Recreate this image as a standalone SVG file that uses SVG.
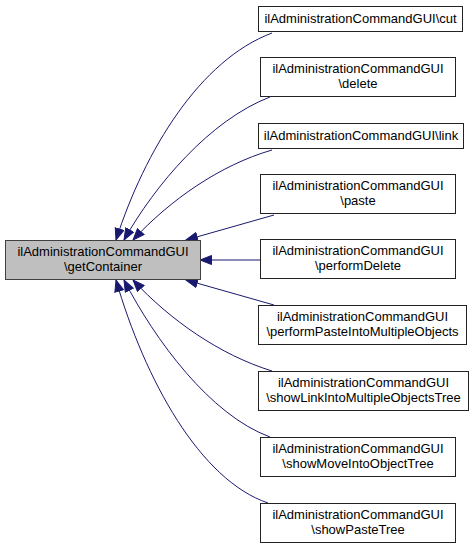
<svg xmlns="http://www.w3.org/2000/svg" width="472" height="547" viewBox="0 0 472 547">
<defs>
<style>
text{font-family:"Liberation Sans",Arial,Helvetica,sans-serif;font-size:13px;fill:#000;text-anchor:middle}
.n{fill:#fff;stroke:#222;stroke-width:1}
.m{fill:#bfbfbf;stroke:#404040;stroke-width:1}
.e{fill:none;stroke:#191970;stroke-width:1;marker-end:url(#ah)}
</style>
<marker id="ah" markerUnits="userSpaceOnUse" markerWidth="14" markerHeight="12" refX="12" refY="5" orient="auto">
<path d="M0.5,0.5 L12,5 L0.5,9.5 z" fill="#191970" stroke="#191970"/>
</marker>
</defs>
<g id="connectors">
<path class="e" d="M272,33 C200,60 145,150 116,240"/>
<path class="e" d="M270,97 C210,120 155,185 124,240"/>
<path class="e" d="M272,150 C220,165 170,200 133,240"/>
<path class="e" d="M274,215 L186,240"/>
<path class="e" d="M260,260 L200,260"/>
<path class="e" d="M274,305 L186,280"/>
<path class="e" d="M272,371 C220,355 170,320 133,280"/>
<path class="e" d="M270,437 C210,415 155,340 124,280"/>
<path class="e" d="M268,503 C200,480 145,380 116,280"/>
</g>
<g id="main">
<rect class="m" x="5.5" y="240.5" width="195" height="39"/>
<text x="103" y="256">ilAdministrationCommandGUI</text>
<text x="103" y="271">\getContainer</text>
</g>
<g id="cut">
<rect class="n" x="258.5" y="6.5" width="204" height="25"/>
<text x="360.5" y="23">ilAdministrationCommandGUI\cut</text>
</g>
<g id="delete">
<rect class="n" x="260.5" y="57.5" width="195" height="39"/>
<text x="358" y="73">ilAdministrationCommandGUI</text>
<text x="358" y="88">\delete</text>
</g>
<g id="link">
<rect class="n" x="258.5" y="123.5" width="205" height="25"/>
<text x="361" y="140">ilAdministrationCommandGUI\link</text>
</g>
<g id="paste">
<rect class="n" x="260.5" y="174.5" width="195" height="39"/>
<text x="358" y="190">ilAdministrationCommandGUI</text>
<text x="358" y="205">\paste</text>
</g>
<g id="performDelete">
<rect class="n" x="260.5" y="239.5" width="195" height="39"/>
<text x="358" y="255">ilAdministrationCommandGUI</text>
<text x="358" y="270">\performDelete</text>
</g>
<g id="performPaste">
<rect class="n" x="258.5" y="305.5" width="208" height="39"/>
<text x="362.5" y="321">ilAdministrationCommandGUI</text>
<text x="362.5" y="336">\performPasteIntoMultipleObjects</text>
</g>
<g id="showLink">
<rect class="n" x="258.5" y="371.5" width="210" height="39"/>
<text x="363.5" y="387">ilAdministrationCommandGUI</text>
<text x="363.5" y="402">\showLinkIntoMultipleObjectsTree</text>
</g>
<g id="showMove">
<rect class="n" x="260.5" y="437.5" width="195" height="39"/>
<text x="358" y="453">ilAdministrationCommandGUI</text>
<text x="358" y="468">\showMoveIntoObjectTree</text>
</g>
<g id="showPaste">
<rect class="n" x="260.5" y="503.5" width="195" height="39"/>
<text x="358" y="519">ilAdministrationCommandGUI</text>
<text x="358" y="534">\showPasteTree</text>
</g>
</svg>
